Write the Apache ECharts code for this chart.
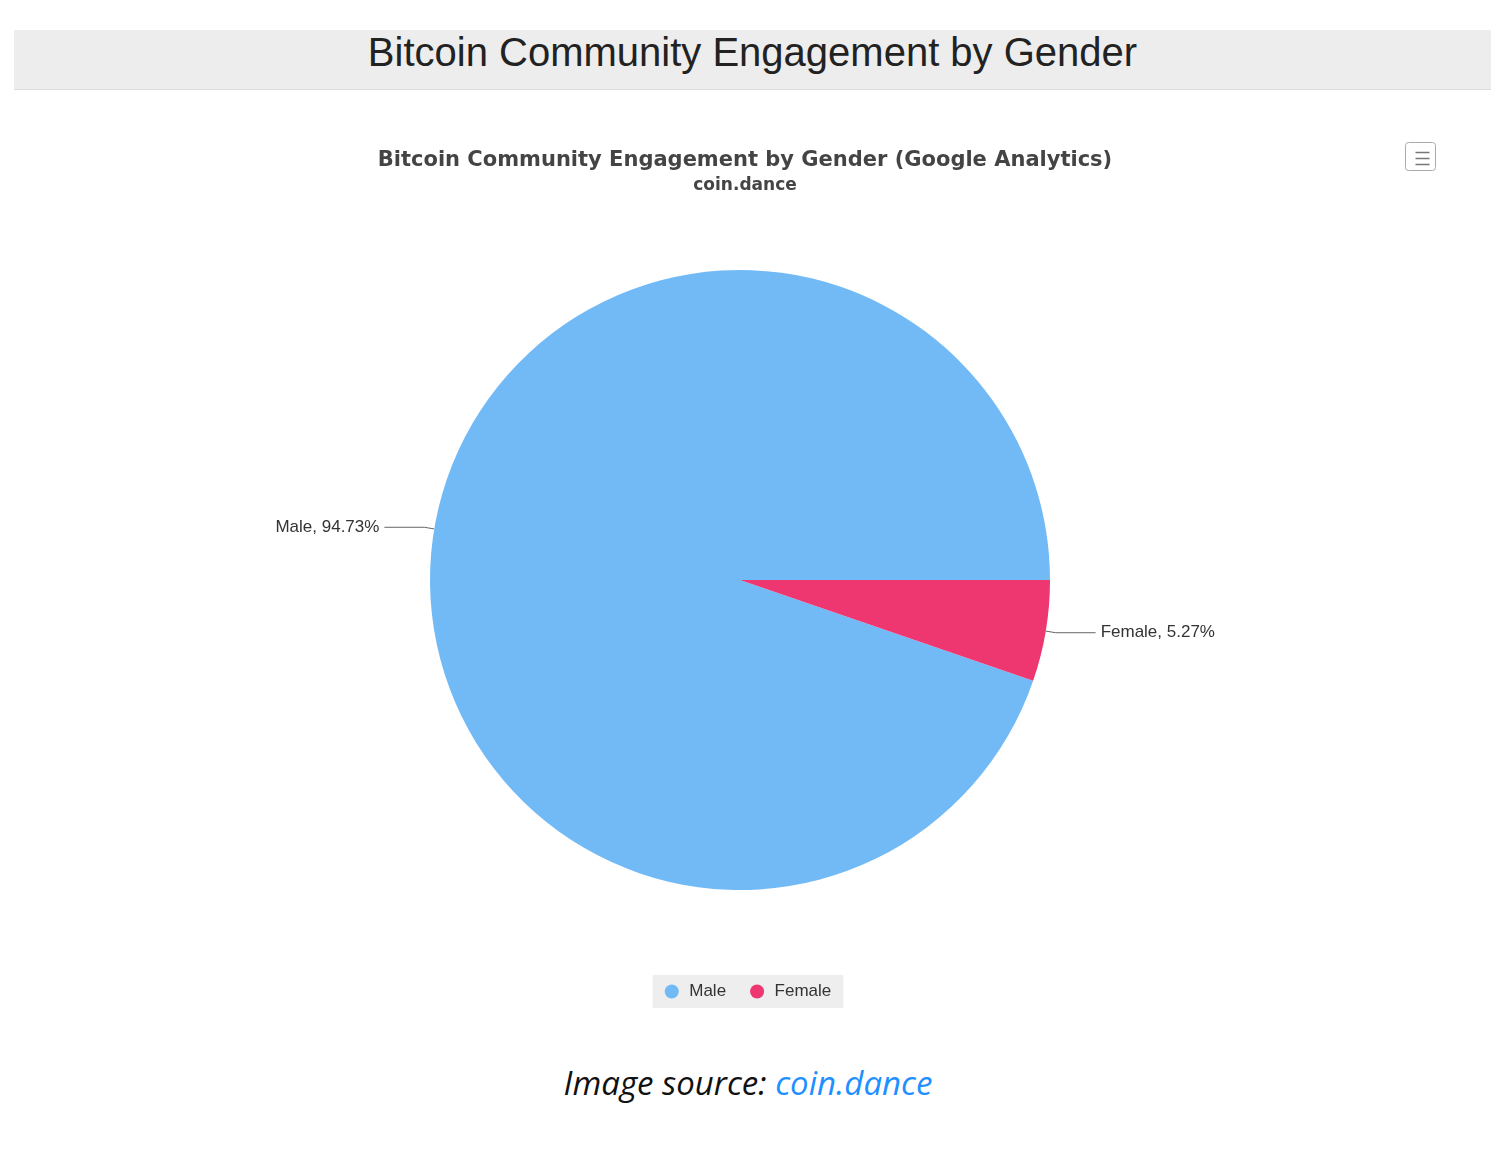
<!DOCTYPE html>
<html>
<head>
<meta charset="utf-8">
<script src="https://cdn.jsdelivr.net/npm/echarts@6/dist/echarts.min.js"></script>
<style>
  body { margin:0; width:1496px; height:1150px; background:#fff; position:relative; font-family:"Liberation Sans", Arial, sans-serif; }
  .head { position:absolute; left:14px; top:30px; width:1477px; height:59px; background:#ededed; border-bottom:1px solid #ddd;
          text-align:center; font-size:40px; line-height:44px; color:#222; }
  #chart { position:absolute; left:0; top:100px; width:1496px; height:920px; }
  .src { position:absolute; top:1060px; width:1496px; text-align:center; font-family:"Open Sans"; font-style:italic; font-size:33px; color:#111; }
  .src span { color:#1e90ff; }
</style>
</head>
<body>
<div class="head">Bitcoin Community Engagement by Gender</div>
<div id="chart"></div>
<div class="src">Image source: <span>coin.dance</span></div>
<script>
  var genders = ['Male', 'Female'];
  var shares = [94.73, 5.27];
  var colors = ['#72baf6', '#ee3670'];

  var pieData = [];
  for (var i = 0; i < genders.length; i++) {
    pieData.push({ name: genders[i], value: shares[i], itemStyle: { color: colors[i] } });
  }
  var myChart = echarts.init(document.getElementById('chart'));
  var option = {
    title: {
      text: 'Bitcoin Community Engagement by Gender (Google Analytics)',
      subtext: 'coin.dance',
      left: 740, textAlign: 'center', top: 45, itemGap: 6,
      textStyle: { fontFamily: 'DejaVu Sans', fontWeight: 'bold', fontSize: 21, color: '#444' },
      subtextStyle: { fontFamily: 'DejaVu Sans', fontWeight: 'bold', fontSize: 17, color: '#444' }
    },
    legend: {
      data: genders, bottom: 12, left: 'center', icon: 'circle',
      backgroundColor: '#eeeeee', padding: [8, 12], itemGap: 24,
      textStyle: { fontSize: 17, color: '#333', fontFamily: 'Liberation Sans' }
    },
    graphic: [{
      type: 'rect', left: 1405, top: 42,
      shape: { width: 30, height: 28, r: 3 },
      style: { fill: '#fff', stroke: '#aaa', lineWidth: 1 }
    }, {
      type: 'group', left: 1413, top: 50,
      children: [0, 6, 12].map(function (y) {
        return { type: 'line', shape: { x1: 0, y1: y, x2: 14, y2: y }, style: { stroke: '#777', lineWidth: 1.5 } };
      })
    }],
    series: [{
      type: 'pie',
      center: [740, 480],
      radius: 310,
      startAngle: -18.97,
      clockwise: true,
      data: pieData,
      label: {
        formatter: '{b}, {c}%', fontSize: 17, color: '#333', fontFamily: 'Liberation Sans'
      },
      labelLine: { length: 10, length2: 40, lineStyle: { color: '#666', width: 1 } },
      emphasis: { disabled: true }
    }]
  };
  myChart.setOption(option);
</script>
</body>
</html>
